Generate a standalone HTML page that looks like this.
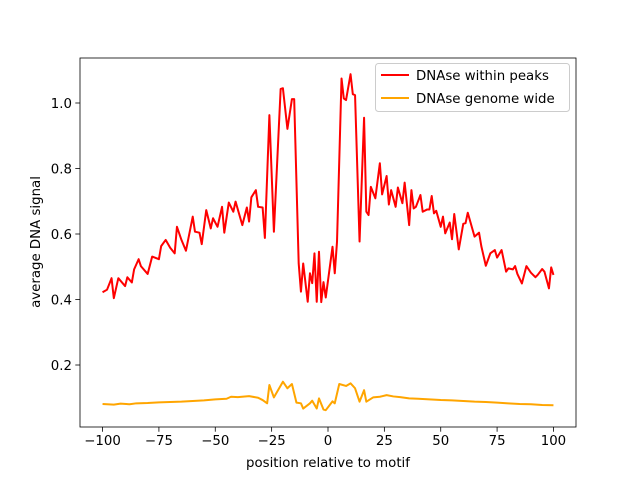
<!DOCTYPE html>
<html><head><meta charset="utf-8"><style>
body{margin:0;background:#fff;}
svg{display:block;font-family:"DejaVu Sans","Liberation Sans",sans-serif;}
</style></head><body>
<svg id="chart" width="640" height="480" viewBox="0 0 640 480" xmlns="http://www.w3.org/2000/svg">
<rect width="640" height="480" fill="#fff"/>
<g id="plot"></g>
<g id="axes"></g>
<text x="328" y="467" font-size="13.33" text-anchor="middle">position relative to motif</text>
<text transform="translate(40,242) rotate(-90)" font-size="13.33" text-anchor="middle">average DNA signal</text>
<g>
<rect x="375.5" y="63.5" width="194" height="48" rx="3" fill="#fff" fill-opacity="0.8" stroke="#ccc"/>
<line x1="381" y1="75" x2="409" y2="75" stroke="#ff0000" stroke-width="2"/>
<text x="416" y="80" font-size="13.33">DNAse within peaks</text>
<line x1="381" y1="98" x2="409" y2="98" stroke="#ffa500" stroke-width="2"/>
<text x="416" y="103" font-size="13.33">DNAse genome wide</text>
</g>
</svg>
<script>
const peaksX=[-100,-98,-96,-95,-93,-90,-89,-87,-86,-84,-83,-80,-78,-75,-74,-72,-70,-68,-67,-65,-63,-60,-59,-57,-56,-54,-52,-51,-49,-47,-46,-44,-42,-41,-38,-36,-35,-34,-32,-31,-29,-28,-26,-24,-21,-20,-18,-16,-15,-13,-12,-11,-9,-8,-7,-6,-5,-4,-3,-2,-1,2,3,4,6,7,8,10,11,12,14,16,17,18,19,21,23,24,26,27,28,30,31,33,34,36,37,38,39,41,42,44,45,46,47,48,50,51,52,54,55,56,58,60,61,62,65,67,68,70,72,74,75,77,79,80,82,83,84,86,88,90,92,93,95,96,98,99,100];
const peaksY=[0.422,0.43,0.465,0.404,0.465,0.441,0.468,0.452,0.492,0.523,0.502,0.478,0.531,0.523,0.563,0.582,0.558,0.541,0.622,0.582,0.549,0.653,0.607,0.604,0.569,0.673,0.617,0.648,0.622,0.683,0.604,0.696,0.668,0.699,0.627,0.681,0.638,0.712,0.734,0.683,0.681,0.588,0.963,0.607,1.043,1.045,0.921,1.012,1.012,0.51,0.424,0.51,0.393,0.48,0.45,0.541,0.393,0.546,0.392,0.453,0.406,0.561,0.48,0.577,1.075,1.014,1.009,1.088,1.027,1.024,0.577,0.955,0.668,0.658,0.744,0.709,0.816,0.721,0.777,0.69,0.734,0.683,0.742,0.694,0.757,0.627,0.734,0.678,0.683,0.719,0.668,0.675,0.675,0.716,0.663,0.671,0.622,0.653,0.602,0.635,0.584,0.661,0.553,0.631,0.633,0.665,0.592,0.604,0.563,0.503,0.541,0.551,0.528,0.551,0.485,0.495,0.492,0.502,0.478,0.449,0.502,0.482,0.468,0.475,0.493,0.485,0.434,0.498,0.475];
const genomeX=[-100,-95,-92,-88,-85,-80,-75,-70,-65,-60,-55,-50,-45,-43,-40,-35,-31,-29,-27,-26,-24,-20,-18,-16,-14,-12,-11,-8,-7,-5,-4,-2,-1,2,3,5,8,10,12,14,16,17,20,23,26,29,32,36,40,45,50,55,60,65,70,75,80,85,90,95,100];
const genomeY=[0.081,0.079,0.082,0.08,0.083,0.084,0.086,0.087,0.088,0.09,0.092,0.095,0.097,0.103,0.102,0.105,0.1,0.093,0.083,0.139,0.101,0.149,0.129,0.142,0.085,0.083,0.067,0.083,0.091,0.067,0.098,0.064,0.062,0.089,0.083,0.142,0.136,0.144,0.129,0.088,0.123,0.088,0.101,0.103,0.108,0.104,0.102,0.098,0.097,0.095,0.093,0.092,0.09,0.088,0.087,0.085,0.083,0.081,0.08,0.078,0.077];
const xTicks=[-100,-75,-50,-25,0,25,50,75,100];
const yTicks=[0.2,0.4,0.6,0.8,1.0];
const L=80,R=576,T=58,B=427;
const xMin=-110,xMax=110,yMin=0.0107,yMax=1.1374;
const sx=v=>L+(v-xMin)/(xMax-xMin)*(R-L);
const sy=v=>B-(v-yMin)/(yMax-yMin)*(B-T);
const NS='http://www.w3.org/2000/svg';
const plot=document.getElementById('plot'),axes=document.getElementById('axes');
function mk(tag,attrs,parent){const e=document.createElementNS(NS,tag);for(const k in attrs)e.setAttribute(k,attrs[k]);parent.appendChild(e);return e;}
function line(xs,ys,color,name){
  const d=xs.map((x,i)=>(i?'L':'M')+sx(x).toFixed(2)+','+sy(ys[i]).toFixed(2)).join('');
  const p=mk('path',{d:d,fill:'none',stroke:color,'stroke-width':2,'stroke-linejoin':'round'},plot);
  
  
}
line(peaksX,peaksY,'#ff0000','series-dnase-within-peaks');
line(genomeX,genomeY,'#ffa500','series-dnase-genome-wide');
const frame=mk('rect',{x:L,y:T,width:R-L,height:B-T,fill:'none',stroke:'#000','stroke-width':0.8},axes);


xTicks.forEach(t=>{
  const x=sx(t);
  const tk=mk('line',{x1:x,y1:B,x2:x,y2:B+4.7,stroke:'#000','stroke-width':0.8},axes);
  
  
  const lb=mk('text',{x:x,y:B+18,'font-size':13.33,'text-anchor':'middle'},axes);
  lb.textContent=(t<0?'\u2212'+(-t):t);
  
  
});
yTicks.forEach(t=>{
  const y=sy(t);
  const tk=mk('line',{x1:L-4.7,y1:y,x2:L,y2:y,stroke:'#000','stroke-width':0.8},axes);
  
  
  const lb=mk('text',{x:L-8,y:y+4.8,'font-size':13.33,'text-anchor':'end'},axes);
  lb.textContent=t.toFixed(1);
  
  
});
</script>
</body></html>
